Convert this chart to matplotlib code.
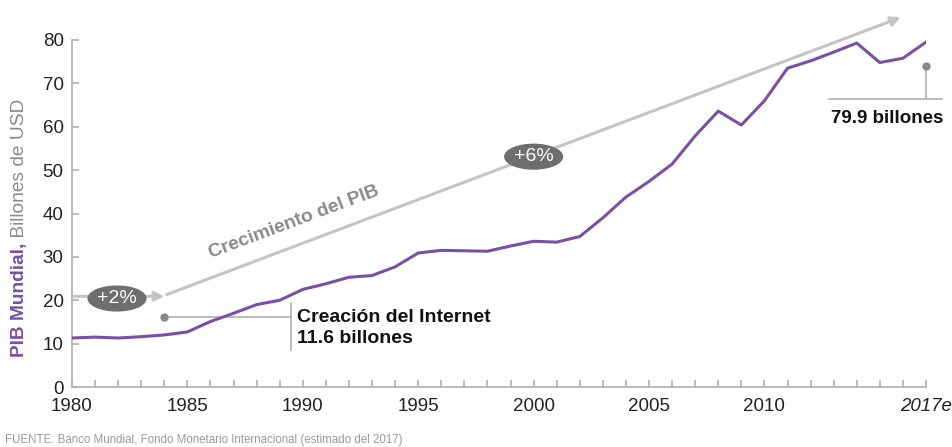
import matplotlib.pyplot as plt
from matplotlib.patches import Ellipse

# World GDP, trillions USD
years = list(range(1980, 2018))
gdp = [11.3, 11.5, 11.3, 11.6, 12.0, 12.7, 15.1, 17.0, 19.0, 20.0,
       22.5, 23.8, 25.3, 25.7, 27.7, 30.9, 31.5, 31.4, 31.3, 32.5,
       33.6, 33.4, 34.7, 39.0, 43.8, 47.4, 51.4, 57.9, 63.6, 60.4,
       66.0, 73.5, 75.2, 77.2, 79.3, 74.8, 75.8, 79.5]
major_years = [1980, 1985, 1990, 1995, 2000, 2005, 2010, 2017]
major_labels = ['1980', '1985', '1990', '1995', '2000', '2005', '2010', '2017e']
y_ticks = [0, 10, 20, 30, 40, 50, 60, 70, 80]

PURPLE = '#7a4fa6'
GRAY = '#c4c4c4'
DARK = '#6e6e6e'
AXIS = '#b0b0b0'

plt.rcParams['font.family'] = ['Liberation Sans', 'DejaVu Sans']

fig = plt.figure(figsize=(9.53, 4.47), dpi=100)
ax = fig.add_axes([72 / 953, 1 - 387 / 447, (926 - 72) / 953, (387 - 40) / 447])

ax.plot(years, gdp, color=PURPLE, lw=2.2, zorder=5)
ax.set_xlim(1980, 2017)
ax.set_ylim(0, 80)

for side in ['top', 'right']:
    ax.spines[side].set_visible(False)
for side in ['left', 'bottom']:
    ax.spines[side].set_color(AXIS)
    ax.spines[side].set_linewidth(1.2)

ax.set_xticks(major_years)
ax.set_xticklabels(major_labels, fontsize=13.5, color='#222222')
ax.get_xticklabels()[-1].set_style('italic')
ax.set_xticks(years, minor=True)
ax.set_yticks(y_ticks)
ax.set_yticklabels([str(v) for v in y_ticks], fontsize=13.5, color='#222222')
ax.tick_params(axis='both', which='both', direction='in', color=AXIS, width=1.2)
ax.tick_params(axis='x', which='both', length=5, pad=8)
ax.tick_params(axis='y', length=5, pad=6)

# growth arrows
ax.annotate('', xy=(1984, 20.9), xytext=(1980, 20.9),
            arrowprops=dict(arrowstyle='-|>', color=GRAY, lw=2.2, mutation_scale=14,
                            shrinkA=0, shrinkB=0), annotation_clip=False)
ax.annotate('', xy=(2015.9, 85.2), xytext=(1984.1, 21.3),
            arrowprops=dict(arrowstyle='-|>', color=GRAY, lw=2.2, mutation_scale=14,
                            shrinkA=0, shrinkB=0), annotation_clip=False)

for cx, cy, label in [(1981.95, 20.4, '+2%'), (2000.0, 53.1, '+6%')]:
    ax.add_patch(Ellipse((cx, cy), 2.5, 5.7, color=DARK, zorder=6, clip_on=False))
    ax.text(cx, cy, label, color='white', fontsize=14, ha='center', va='center',
            zorder=7)

ax.text(1989.6, 38.0, 'Crecimiento del PIB', color='#8a8a8a', fontsize=13.8,
        fontweight='bold', rotation=20.5, ha='center', va='center',
        rotation_mode='anchor')

# Internet annotation
ax.plot([1984, 1989.5], [16.2, 16.2], color=AXIS, lw=1.2)
ax.plot([1984], [16.2], 'o', color='#8a8a8a', ms=5)
ax.plot([1989.5, 1989.5], [8.5, 19.4], color=AXIS, lw=1.2)
ax.text(1989.75, 13.7, 'Creación del Internet\n11.6 billones', fontsize=14,
        fontweight='bold', color='#111111', va='center', ha='left', linespacing=1.3)

# 2017 annotation
ax.plot([2017, 2017], [73.9, 66.3], color=AXIS, lw=1.2, clip_on=False)
ax.plot([2017], [73.9], 'o', color='#8a8a8a', ms=5, clip_on=False)
ax.plot([2012.8, 2017.7], [66.3, 66.3], color=AXIS, lw=1.2, clip_on=False)
ax.text(2017.75, 62.0, '79.9 billones', fontsize=13.5, fontweight='bold',
        color='#111111', va='center', ha='right')

# y label in two colours, placed end to end
t1 = fig.text(20 / 953, 1 - 357 / 447, 'PIB Mundial,', rotation=90, color=PURPLE,
              fontsize=13.8, fontweight='bold', ha='center', va='bottom')
fig.canvas.draw()
bb = t1.get_window_extent()
fig.text(20 / 953, bb.y1 / fig.bbox.height, ' Billones de USD', rotation=90,
         color='#8a8a8a', fontsize=13.8, ha='center', va='bottom')

fig.text(5 / 953, 1 - 440 / 447, 'FUENTE: Banco Mundial, Fondo Monetario Internacional (estimado del 2017)',
         fontsize=8.3, color='#9a9a9a', ha='left', va='center')

fig.savefig('out.png', dpi=100)
